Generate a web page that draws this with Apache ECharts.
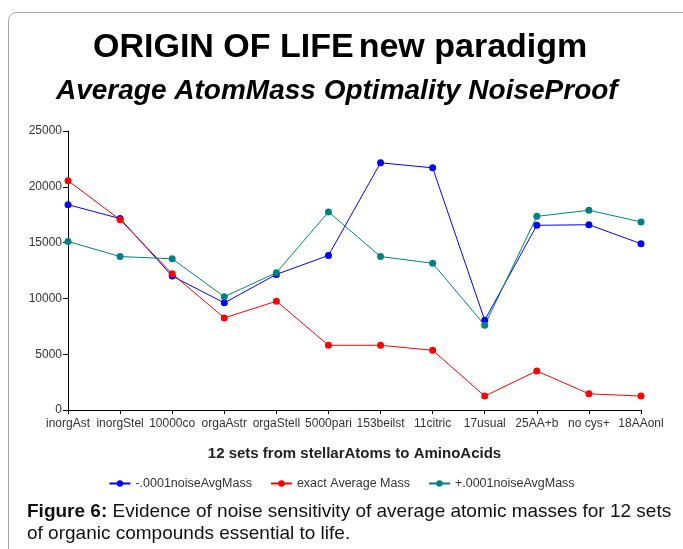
<!DOCTYPE html>
<html lang="en">
<head>
    <meta charset="UTF-8">
    <title>Origin of Life - Average AtomMass</title>
    <script src="https://cdn.jsdelivr.net/npm/echarts@6/dist/echarts.min.js"></script>
    <style>
        * { margin: 0; padding: 0; box-sizing: border-box; }
        body { background: #fff; }
        #chart { width: 683px; height: 549px; }
    </style>
</head>
<body>
    <div id="chart"></div>
    <script>
        // categories (truncated as in the source)
        const categories = ['inorgAst', 'inorgStel', '10000co', 'orgaAstr', 'orgaStell', '5000pari',
            '153beilst', '11citric', '17usual', '25AA+b', 'no cys+', '18AAonl'];
        const minusNoise = [18400, 17150, 12000, 9600, 12150, 13850, 22150, 21700, 8050, 16550, 16600, 14900];
        const exactMass = [20550, 17050, 12200, 8250, 9750, 5800, 5800, 5350, 1250, 3500, 1450, 1250];
        const plusNoise = [15100, 13750, 13550, 10150, 12300, 17750, 13750, 13150, 7600, 17350, 17900, 16850];
        const seriesNames = ['-.0001noiseAvgMass', 'exact Average Mass', '+.0001noiseAvgMass'];
        const colors = ['#0000ff', '#ff0000', '#008080'];

        const font = 'Liberation Sans, Arial, sans-serif';
        const chart = echarts.init(document.getElementById('chart'));

        const mkSeries = (name, data, color) => ({
            name: name,
            type: 'line',
            data: data,
            symbol: 'circle',
            symbolSize: 7,
            itemStyle: { color: color },
            lineStyle: { color: color, width: 1 },
            emphasis: { disabled: true }
        });

        chart.setOption({
            animation: false,
            title: [{
                text: '{a|ORIGIN OF LIFE} {b|new paradigm}',
                left: 88,
                top: 26,
                textStyle: {
                    rich: {
                        a: { fontFamily: font, fontSize: 34, fontWeight: 'bold', color: '#000' },
                        b: { fontFamily: font, fontSize: 34, color: '#000' }
                    }
                }
            }, {
                text: 'Average AtomMass Optimality NoiseProof',
                left: 51,
                top: 72,
                textStyle: { fontFamily: font, fontSize: 28, fontWeight: 'bold', fontStyle: 'italic', color: '#000' }
            }],
            graphic: [{
                type: 'rect',
                shape: { x: 8.5, y: 12.5, width: 720, height: 600, r: 8 },
                style: { fill: 'none', stroke: '#a8a8a8', lineWidth: 1 },
                z: -1
            }, {
                type: 'text',
                left: 27,
                top: 501,
                style: {
                    text: '{b|Figure 6:} Evidence of noise sensitivity of average atomic masses for 12 sets\nof organic compounds essential to life.',
                    font: '19px ' + font,
                    fill: '#111',
                    lineHeight: 22,
                    rich: { b: { fontWeight: 'bold', fontSize: 19, fontFamily: font, fill: '#111' } }
                }
            }],
            legend: {
                data: seriesNames,
                top: 472,
                left: 'center',
                itemWidth: 21,
                itemHeight: 8,
                itemGap: 18,
                textStyle: { fontFamily: font, fontSize: 12.5, color: '#333' }
            },
            grid: { left: 68, right: 42, top: 131, bottom: 139 },
            xAxis: {
                type: 'category',
                data: categories,
                boundaryGap: false,
                name: '12 sets from stellarAtoms to AminoAcids',
                nameLocation: 'middle',
                nameGap: 36,
                nameTextStyle: { fontFamily: font, fontSize: 15, fontWeight: 'bold', color: '#222' },
                axisLine: { lineStyle: { color: '#000', width: 1 } },
                axisTick: { alignWithLabel: true, length: 4, lineStyle: { color: '#000' } },
                axisLabel: { interval: 0, hideOverlap: false, fontFamily: font, fontSize: 12, color: '#333', margin: 8 },
                splitLine: { show: false }
            },
            yAxis: {
                type: 'value',
                min: 0,
                max: 25000,
                interval: 5000,
                axisLine: { show: true, lineStyle: { color: '#000', width: 1 } },
                axisTick: { show: true, length: 5, lineStyle: { color: '#000' } },
                axisLabel: { fontFamily: font, fontSize: 12, color: '#333', margin: 6, formatter: v => String(v) },
                splitLine: { show: false }
            },
            series: [
                mkSeries(seriesNames[0], minusNoise, colors[0]),
                mkSeries(seriesNames[1], exactMass, colors[1]),
                mkSeries(seriesNames[2], plusNoise, colors[2])
            ]
        });
    </script>
</body>
</html>
